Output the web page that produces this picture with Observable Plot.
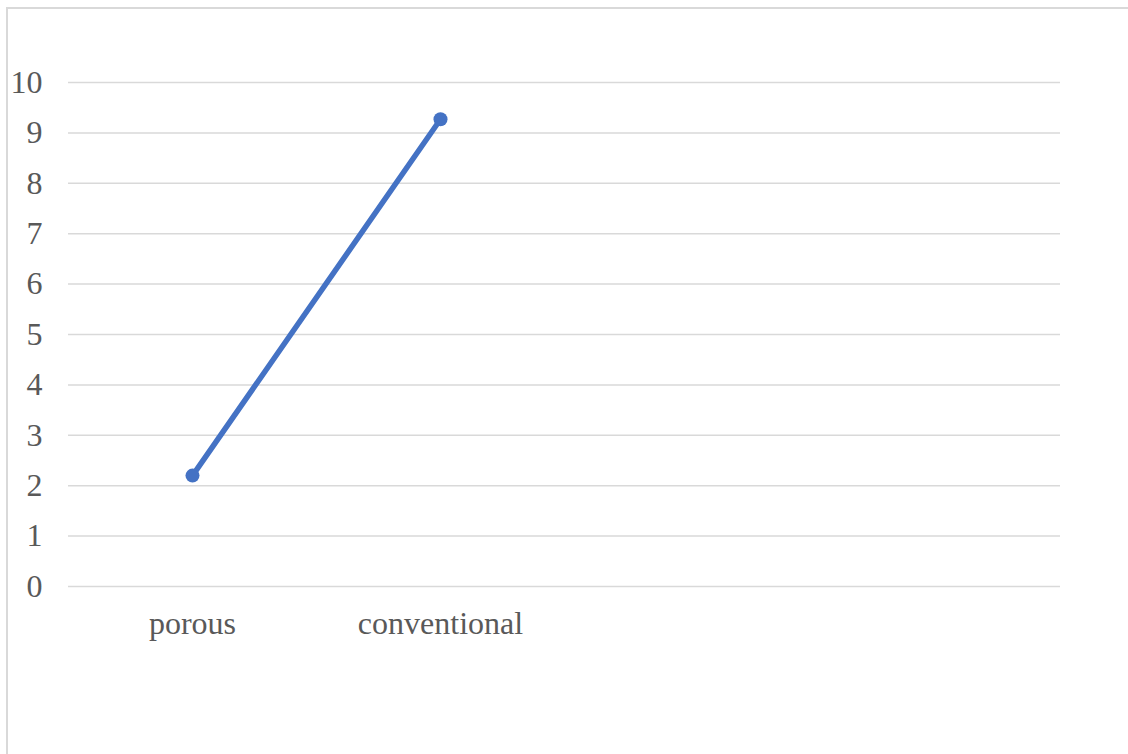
<!DOCTYPE html>
<html>
<head>
<meta charset="utf-8">
<script src="https://cdn.jsdelivr.net/npm/d3@7"></script>
<script src="https://cdn.jsdelivr.net/npm/@observablehq/plot@0.6"></script>
<style>
  html, body { margin: 0; padding: 0; background: #fff; }
  #wrap { position: relative; width: 1128px; height: 754px; overflow: hidden; }
  #border { position: absolute; left: 6px; top: 7px; width: 1200px; height: 800px;
            border-left: 2px solid #d9d9d9; border-top: 2px solid #d9d9d9; box-sizing: border-box; }
  #chart { position: absolute; left: 0; top: 0; }
</style>
</head>
<body>
<div id="wrap"><div id="border"></div><div id="chart"></div></div>
<script>
// Category slots on the x axis (two trailing slots are left empty)
const categories = ["porous", "conventional", " ", "  "];
// Measured values for the two categories
const values = [2.2, 9.27];
// Y axis tick values
const yTicks = [0, 1, 2, 3, 4, 5, 6, 7, 8, 9, 10];

const data = values.map((v, i) => ({category: categories[i], value: v}));

const chart = Plot.plot({
  width: 1128,
  height: 754,
  marginLeft: 68,
  marginRight: 68,
  marginTop: 82,
  marginBottom: 168,
  style: {fontFamily: "'Liberation Serif', 'Times New Roman', serif", fontSize: "32px", color: "#595959", background: "transparent"},
  x: {type: "point", domain: categories, padding: 0.5, label: null},
  y: {domain: [0, 10], label: null},
  marks: [
    Plot.ruleY(yTicks, {stroke: "#d9d9d9", strokeWidth: 1.5}),
    Plot.axisY({ticks: yTicks, tickSize: 0, tickPadding: 26, label: null, fill: "#595959"}),
    Plot.axisX({tickSize: 0, tickPadding: 25, label: null, fill: "#595959"}),
    Plot.line(data, {x: "category", y: "value", stroke: "#4472C4", strokeWidth: 5.5}),
    Plot.dot(data, {x: "category", y: "value", r: 7, fill: "#4472C4", stroke: "none"})
  ]
});
document.getElementById("chart").appendChild(chart);
</script>
</body>
</html>
